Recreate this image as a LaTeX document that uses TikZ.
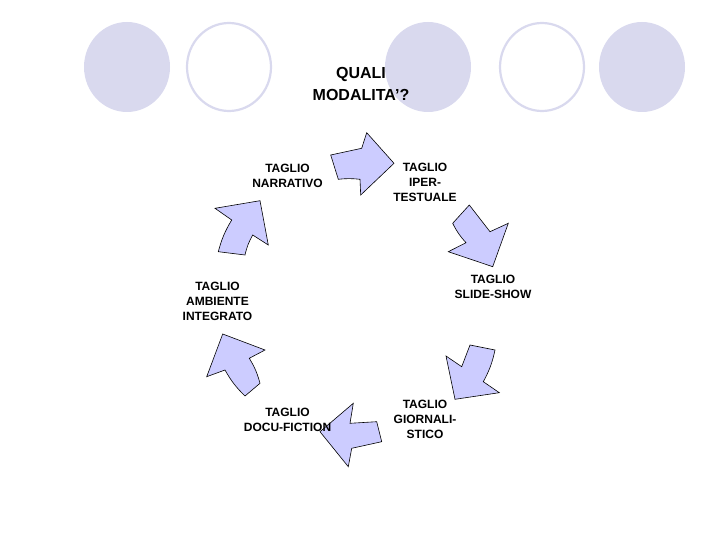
\documentclass[tikz,border=0pt]{standalone}
\usepackage{fontspec}
\setmainfont{Liberation Sans}
\definecolor{circfill}{RGB}{217,217,238}
\definecolor{arrfill}{RGB}{204,204,255}
\begin{document}
\begin{tikzpicture}[x=1pt,y=-1pt,
  dot/.style={fill=circfill,draw=none},
  ring/.style={draw=circfill,line width=2.2pt,fill=white},
  bent/.style={fill=arrfill,draw=black,line width=0.6pt,line join=miter},
  lbl/.style={align=center,inner sep=0pt,font=\bfseries\fontsize{12}{15}\selectfont},
  ttl/.style={align=center,inner sep=0pt,font=\bfseries\fontsize{16}{21.5}\selectfont}]
\useasboundingbox (0,0) rectangle (720,540);
% top circles
\fill[dot] (127,67) ellipse [x radius=43,y radius=45];
\draw[ring] (229,67) ellipse [x radius=42,y radius=44];
\fill[dot] (428,67) ellipse [x radius=43,y radius=45];
\draw[ring] (542,67) ellipse [x radius=42,y radius=44];
\fill[dot] (642,67) ellipse [x radius=43,y radius=45];
\node[ttl] (title) at (361,84) {QUALI\\MODALITA’?};
% bent arrows
\draw[bent] (330.7,155) -- (361.7,148.3) -- (366.7,132.7) -- (394,163.3) -- (360.7,195) -- (360,179.3) to[bend right=6] (338.3,179.3) -- cycle;
\draw[bent] (469.3,205) -- (490,231.7) -- (508.3,223.3) -- (492.7,266.7) -- (448.3,251.7) -- (466,242.7) to[bend left=8] (452.7,223.3) -- cycle;
\draw[bent] (470,345) -- (495,350) to[bend left=8] (483.3,381.7) -- (499.3,392.7) -- (455,399.3) -- (446,356) -- (461.7,366.7) -- cycle;
\draw[bent] (353.3,403.3) -- (350,423.3) -- (376.7,421.7) -- (381.7,441.7) -- (351.7,448.3) -- (348.3,466.7) -- (320,431.7) -- cycle;
\draw[bent] (222.7,334) -- (265,350) -- (249.3,358.3) to[bend left=8] (260,383.3) -- (245,396) to[bend left=8] (225,370) -- (206.7,376.7) -- cycle;
\draw[bent] (215,208.3) -- (260,200.7) -- (268.3,245) -- (252.7,235) to[bend right=8] (245,255) -- (218.3,251.7) to[bend left=8] (231.7,220) -- cycle;
% labels
\node[lbl] (narr) at (287.5,175.5) {TAGLIO\\NARRATIVO};
\node[lbl] (iper) at (425,182.5) {TAGLIO\\IPER-\\TESTUALE};
\node[lbl] (slide) at (493,286.5) {TAGLIO\\SLIDE-SHOW};
\node[lbl] (amb) at (217.5,301.5) {TAGLIO\\AMBIENTE\\INTEGRATO};
\node[lbl] (docu) at (287.5,419.5) {TAGLIO\\DOCU-FICTION};
\node[lbl] (gior) at (425,419) {TAGLIO\\GIORNALI-\\STICO};
\end{tikzpicture}
\end{document}
